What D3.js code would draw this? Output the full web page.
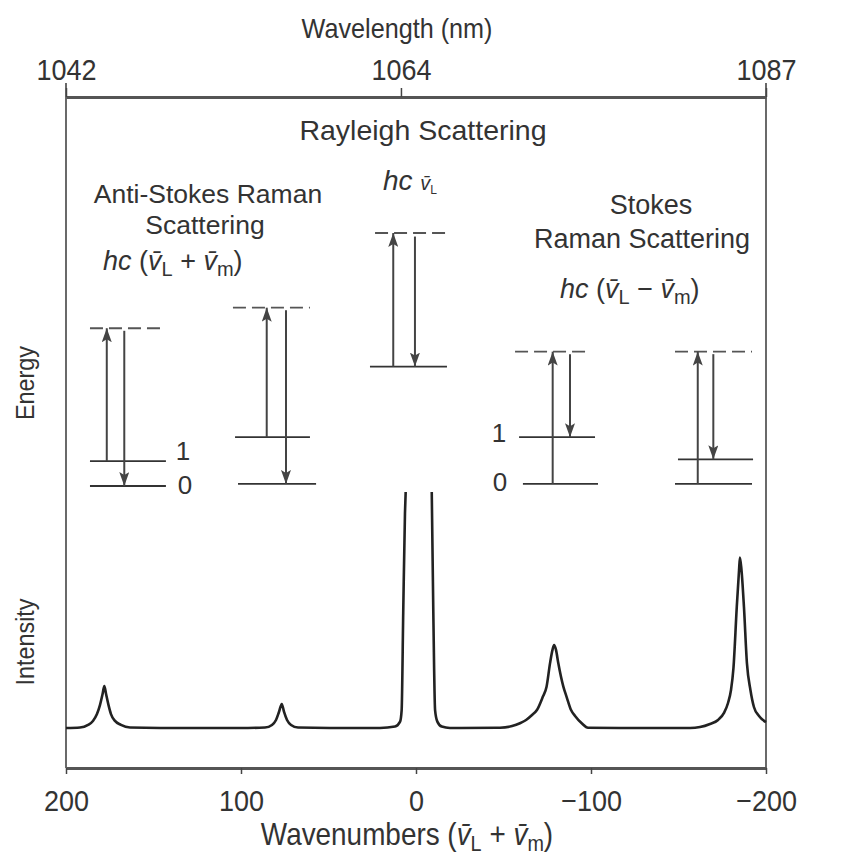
<!DOCTYPE html>
<html lang="en">
<head>
    <meta charset="UTF-8">
    <title>Raman scattering</title>
    <script src="https://d3js.org/d3.v7.min.js"></script>
    <style>
        body {margin: 0; background: white;}
        text {font-family: "Liberation Sans", Arial, sans-serif; fill: #333;}
    </style>
</head>
<body>
<script>
    // bottom axis (wavenumbers) and top axis (wavelength)
    const wavenumberTicks = [200, 100, 0, -100, -200];
    const wavelengthTicks = [1042, 1064, 1087];
    const wavelengthAtWavenumber = [200, 8.6, -200];

    // spectrum: [wavenumber, intensity]; null = gap (Rayleigh peak cut off)
    const spectrum = [
        [200, 0], [192, 0.2], [187.4, 1.3], [184.6, 3.0], [182.3, 5.9], [180.6, 9.7], [179.1, 14.4],
        [178.1, 17.8], [177.1, 14.4], [175.7, 9.7], [174.3, 5.9], [172.0, 3.0], [168.6, 1.3], [163.4, 0.2], [146, 0],
        [100.6, 0], [86.3, 0.2], [82.3, 1.3], [80.0, 3.4], [78.3, 6.8], [76.7, 10.2], [75.4, 6.8],
        [73.7, 3.4], [71.4, 1.3], [67.4, 0.2], [49, 0],
        [20.6, 0], [12.0, 0.6], [9.1, 2.7], [8.2, 7.6], [7.3, 48.7], [6.3, 91.1], [5.9, 100],
        [-1.5, null],
        [-9.0, 100], [-9.9, 48.7], [-10.9, 7.6], [-12.2, 2.7], [-14.7, 0.6], [-19.4, 0], [-25.1, 0],
        [-48.0, 0.1], [-54.9, 0.8], [-59.4, 2.0], [-62.9, 3.4], [-66.3, 5.5], [-69.1, 7.6], [-72.4, 13.1],
        [-74.6, 17.5], [-76.6, 27.5], [-78.0, 33.1], [-78.9, 35.2], [-80.0, 33.1], [-81.3, 27.5], [-84.2, 17.5],
        [-86.1, 13.1], [-88.6, 7.6], [-90.9, 5.1], [-94.7, 2.0], [-98.3, 0.1], [-116.6, 0],
        [-156.6, 0], [-162.3, 0.4], [-168.0, 1.7], [-172.6, 3.4], [-176.0, 6.4], [-178.3, 10.6], [-180.0, 16.1],
        [-181.4, 25.4], [-183.3, 51.3], [-184.6, 66.9], [-185.1, 72.2], [-186.0, 66.9], [-187.4, 51.3],
        [-189.1, 27.5], [-191.1, 16.1], [-193.1, 8.9], [-196.0, 5.1], [-200, 2.5]
    ];

    // energy diagrams: [energy, wavenumber start, wavenumber end]
    const levelLines = [
        [0.4, 186.3, 142.9], [10.2, 186.3, 142.9],
        [1.2, 101.7, 57.1], [19.6, 103.4, 60.6],
        [47.4, 26.3, -17.7],
        [1.2, -61.1, -104.0], [19.6, -58.9, -102.3],
        [1.2, -148.0, -192.0], [10.9, -149.7, -192.6]
    ];
    const virtualLines = [
        [62.5, 186.3, 142.9], [70.6, 104.6, 60.6], [100, 23.4, -19.4],
        [53.3, -56.6, -99.4], [53.3, -148.0, -192.0]
    ];
    // [wavenumber, energy from, energy to]
    const upArrows = [
        [176.7, 10.2, 62.5], [85.3, 19.6, 70.6], [13.0, 47.4, 100], [-78.1, 1.2, 53.3], [-161.0, 1.2, 53.3]
    ];
    const downArrows = [
        [166.7, 61.5, 0.4], [74.3, 69.6, 1.2], [0.6, 98.6, 47.4], [-88.0, 52.3, 19.6], [-169.9, 52.3, 10.9]
    ];
    // [label, wavenumber, energy]
    const levelLabels = [
        ["1", 133.1, 10.6], ["0", 132, -2.8], ["1", -47.4, 17.7], ["0", -48, -1.6]
    ];

    const width = 850, height = 857;
    const plotLeft = 66, plotRight = 766, plotTop = 97, plotBottom = 768;

    const svg = d3.select("body").append("svg")
        .attr("width", width).attr("height", height)
        .style("background", "white");

    const x = d3.scaleLinear().domain([200, -200]).range([plotLeft, plotRight]);
    const y = d3.scaleLinear().domain([0, 100]).range([728, 492]);
    const energy = d3.scaleLinear().domain([0, 100]).range([487, 233]);
    const xTop = d3.scaleLinear().domain(wavelengthTicks).range(wavelengthAtWavenumber.map(x));

    // frame verticals
    svg.selectAll("line.frame")
        .data([plotLeft, plotRight])
        .enter().append("line")
        .attr("class", "frame")
        .attr("x1", d => d).attr("x2", d => d)
        .attr("y1", plotTop - 14).attr("y2", plotBottom)
        .style("stroke", "#444").style("stroke-width", 1.6);

    // bottom axis
    const gx = svg.append("g")
        .attr("transform", `translate(0,${plotBottom})`)
        .call(d3.axisBottom(x).tickValues(wavenumberTicks).tickSizeInner(6).tickSizeOuter(0).tickPadding(16)
            .tickFormat(d3.format("d")));
    gx.select(".domain").style("stroke", "#555").style("stroke-width", 3);
    gx.selectAll(".tick line").style("stroke", "#444").style("stroke-width", 1.5);
    gx.selectAll(".tick text").style("font-size", "30px").style("fill", "#333")
        .attr("transform", "scale(0.9,1)");

    // top axis
    const gt = svg.append("g")
        .attr("transform", `translate(0,${plotTop})`)
        .call(d3.axisTop(xTop).tickValues(wavelengthTicks).tickSizeInner(9).tickSizeOuter(0).tickPadding(8)
            .tickFormat(d3.format("d")));
    gt.select(".domain").style("stroke", "#555").style("stroke-width", 3);
    gt.selectAll(".tick line").style("stroke", "#444").style("stroke-width", 1.5);
    gt.selectAll(".tick text").style("font-size", "30px").style("fill", "#333")
        .attr("transform", "scale(0.9,1)");

    // spectrum
    const line = d3.line()
        .defined(d => d[1] !== null)
        .x(d => x(d[0]))
        .y(d => y(d[1]))
        .curve(d3.curveMonotoneX);

    svg.append("path")
        .datum(spectrum)
        .attr("d", line)
        .style("fill", "none")
        .style("stroke", "#222")
        .style("stroke-width", 2.6)
        .style("stroke-linejoin", "round");

    // energy level diagrams
    svg.append("defs").append("marker")
        .attr("id", "head")
        .attr("viewBox", "0 0 14 10")
        .attr("refX", 14).attr("refY", 5)
        .attr("markerWidth", 14).attr("markerHeight", 10)
        .attr("markerUnits", "userSpaceOnUse")
        .attr("orient", "auto")
        .append("path")
        .attr("d", "M0,0 L14,5 L0,10 L3,5 Z")
        .style("fill", "#444");

    svg.selectAll("line.level")
        .data(levelLines)
        .enter().append("line")
        .attr("class", "level")
        .attr("x1", d => x(d[1])).attr("x2", d => x(d[2]))
        .attr("y1", d => energy(d[0])).attr("y2", d => energy(d[0]))
        .style("stroke", "#333").style("stroke-width", 1.8);

    svg.selectAll("line.virtual")
        .data(virtualLines)
        .enter().append("line")
        .attr("class", "virtual")
        .attr("x1", d => x(d[1])).attr("x2", d => x(d[2]))
        .attr("y1", d => energy(d[0])).attr("y2", d => energy(d[0]))
        .style("stroke", "#555").style("stroke-width", 1.8)
        .style("stroke-dasharray", "13,6");

    svg.selectAll("line.arrow")
        .data(upArrows.concat(downArrows))
        .enter().append("line")
        .attr("class", "arrow")
        .attr("x1", d => x(d[0])).attr("x2", d => x(d[0]))
        .attr("y1", d => energy(d[1])).attr("y2", d => energy(d[2]))
        .attr("marker-end", "url(#head)")
        .style("stroke", "#444").style("stroke-width", 2);

    svg.selectAll("text.levelLabel")
        .data(levelLabels)
        .enter().append("text")
        .attr("class", "levelLabel")
        .attr("x", d => x(d[1])).attr("y", d => energy(d[2]))
        .attr("text-anchor", "middle")
        .style("font-size", "26px")
        .text(d => d[0]);

    // annotations
    function nu(t, sub, size) {
        t.append("tspan").style("font-style", "italic").text("v\u0304");
        t.append("tspan").attr("dy", 6).style("font-size", size).text(sub);
    }

    svg.append("text").attr("x", 423).attr("y", 140).attr("text-anchor", "middle")
        .style("font-size", "28.5px").text("Rayleigh Scattering");

    const hl = svg.append("text").attr("x", 383).attr("y", 190).style("font-size", "28px");
    hl.append("tspan").style("font-style", "italic").text("hc ");
    hl.append("tspan").style("font-style", "italic").style("font-size", "20px").text("v\u0304");
    hl.append("tspan").attr("dy", 4).style("font-size", "12px").text("L");

    svg.append("text").attr("x", 208).attr("y", 203).attr("text-anchor", "middle")
        .style("font-size", "26.5px").text("Anti-Stokes Raman");
    svg.append("text").attr("x", 205).attr("y", 234).attr("text-anchor", "middle")
        .style("font-size", "26.5px").text("Scattering");

    const ha = svg.append("text").attr("x", 103).attr("y", 270).style("font-size", "27px");
    ha.append("tspan").style("font-style", "italic").text("hc");
    ha.append("tspan").text(" (");
    nu(ha, "L", "20px");
    ha.append("tspan").attr("dy", -6).text(" + ");
    nu(ha, "m", "20px");
    ha.append("tspan").attr("dy", -6).text(")");

    svg.append("text").attr("x", 651).attr("y", 214).attr("text-anchor", "middle")
        .style("font-size", "27px").text("Stokes");
    svg.append("text").attr("x", 642).attr("y", 248).attr("text-anchor", "middle")
        .style("font-size", "27px").text("Raman Scattering");

    const hs = svg.append("text").attr("x", 560).attr("y", 298).style("font-size", "27px");
    hs.append("tspan").style("font-style", "italic").text("hc");
    hs.append("tspan").text(" (");
    nu(hs, "L", "20px");
    hs.append("tspan").attr("dy", -6).text(" \u2212 ");
    nu(hs, "m", "20px");
    hs.append("tspan").attr("dy", -6).text(")");

    // axis titles
    svg.append("text").attr("transform", "translate(397,38) scale(0.9,1)").attr("text-anchor", "middle")
        .style("font-size", "28px").text("Wavelength (nm)");

    const wt = svg.append("text").attr("transform", "translate(407,845) scale(0.9,1)")
        .attr("text-anchor", "middle").style("font-size", "31px");
    wt.append("tspan").text("Wavenumbers (");
    nu(wt, "L", "22px");
    wt.append("tspan").attr("dy", -6).text(" + ");
    nu(wt, "m", "22px");
    wt.append("tspan").attr("dy", -6).text(")");

    svg.append("text")
        .attr("transform", "translate(34,383) rotate(-90) scale(0.9,1)")
        .attr("text-anchor", "middle").style("font-size", "26px").text("Energy");
    svg.append("text")
        .attr("transform", "translate(34,642) rotate(-90) scale(0.9,1)")
        .attr("text-anchor", "middle").style("font-size", "26px").text("Intensity");
</script>
</body>
</html>
